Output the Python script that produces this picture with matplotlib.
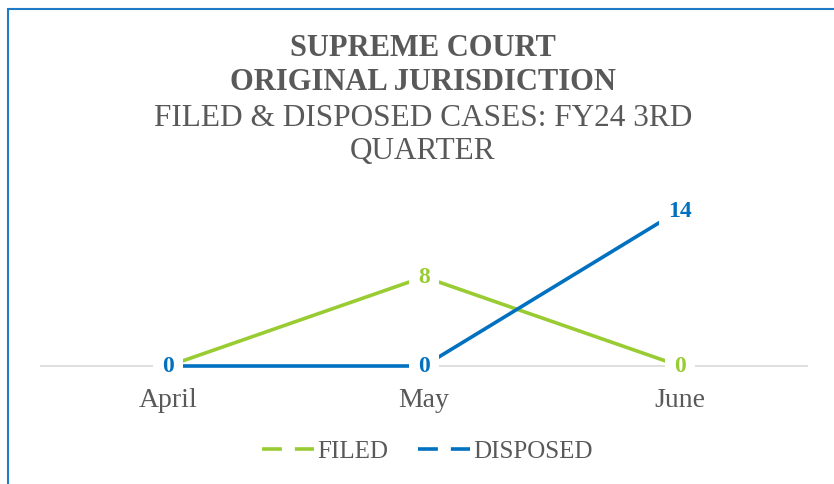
import matplotlib.pyplot as plt
from matplotlib.lines import Line2D
from matplotlib.patches import Rectangle

months = ["April", "May", "June"]
filed = [0, 8, 0]
disposed = [0, 0, 14]

GREEN = "#99CC33"
BLUE = "#0070C0"
GRAY = "#595959"

plt.rcParams['font.family'] = ['Liberation Serif', 'DejaVu Serif']

fig = plt.figure(figsize=(8.34, 4.85), dpi=100)
# axes box in pixels: x 40..808, y 190..384 (from top)
ax = fig.add_axes([40 / 834, (485 - 384) / 485, (808 - 40) / 834, (384 - 190) / 485])

x = list(range(len(months)))
ax.plot(x, filed, color=GREEN, lw=2.6, solid_capstyle="butt", zorder=2)
ax.plot(x, disposed, color=BLUE, lw=2.6, solid_capstyle="butt", zorder=3)

# data labels with white boxes, like the original
box = dict(boxstyle="square,pad=0.4", fc="white", ec="none")
for xi, v in zip(x, filed):
    ax.text(xi, v, str(v), color=GREEN, fontsize=17, fontweight="bold",
            ha="center", va="center", zorder=4, bbox=box)
for xi, v in zip(x, disposed):
    ax.text(xi, v, str(v), color=BLUE, fontsize=17, fontweight="bold",
            ha="center", va="center", zorder=5 if xi < 2 else 6, bbox=box)
# green 0 in June sits on top
ax.texts[2].set_zorder(7)

ax.set_xlim(-0.5, 2.5)
# zero at y=367, one unit ~ 11.14 px
unit = 11.14
ax.set_ylim(-(384 - 367) / unit, (367 - 190) / unit)
ax.axhline(0, color="#D9D9D9", lw=1.2, zorder=1)
ax.set_xticks(x)
ax.set_xticklabels(months, fontsize=20, color=GRAY)
ax.tick_params(axis="x", length=0, pad=3)
ax.set_yticks([])
for s in ax.spines.values():
    s.set_visible(False)

cx = 423 / 834
fig.text(cx, 1 - 48 / 485, "SUPREME COURT", ha="center", va="center",
         fontsize=22, fontweight="bold", color=GRAY)
fig.text(cx, 1 - 83 / 485, "ORIGINAL JURISDICTION", ha="center", va="center",
         fontsize=22, fontweight="bold", color=GRAY)
fig.text(cx, 1 - 119 / 485, "FILED & DISPOSED CASES: FY24 3RD", ha="center", va="center",
         fontsize=22.5, color=GRAY)
fig.text(cx, 1 - 152 / 485, "QUARTER", ha="center", va="center",
         fontsize=22.5, color=GRAY)

dash = (0, (5.5, 3.6))
handles = [Line2D([], [], color=GREEN, lw=2.6, ls=dash),
           Line2D([], [], color=BLUE, lw=2.6, ls=dash)]
fig.legend(handles, ["FILED", "DISPOSED"], loc="center", bbox_to_anchor=(427 / 834, 1 - 452 / 485),
           ncol=2, frameon=False, fontsize=18, handlelength=2.1, handletextpad=0.1,
           columnspacing=1.2, labelcolor=GRAY)

fig.add_artist(Rectangle((8 / 834, -0.1), 1.0, 1 - 10 / 485 + 0.1, transform=fig.transFigure,
                         fill=False, ec="#1F7AC8", lw=1.5))

fig.savefig("out.png", dpi=100)
